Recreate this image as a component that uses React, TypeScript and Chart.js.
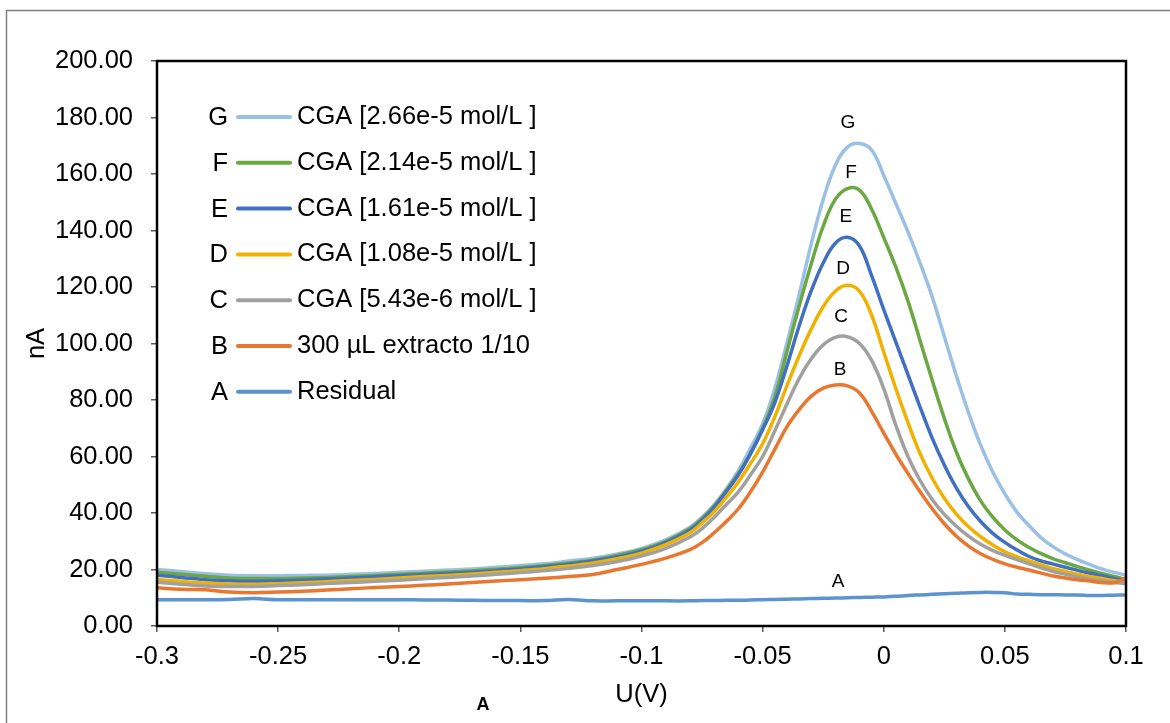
import React, { useEffect, useRef } from 'react';
import { Chart, registerables } from 'chart.js';

Chart.register(...registerables);

const FONT = '"Liberation Sans", Arial, Helvetica, sans-serif';

// Potential U (V)
const xs = [
  -0.3, -0.29, -0.28, -0.27, -0.26, -0.25, -0.24, -0.23, -0.22, -0.21,
  -0.2, -0.19, -0.18, -0.17, -0.16, -0.15, -0.14, -0.13, -0.12, -0.11,
  -0.1, -0.09, -0.08, -0.075, -0.07, -0.065, -0.06, -0.055, -0.05, -0.045,
  -0.04, -0.035, -0.03, -0.025, -0.02, -0.015, -0.01, -0.005, 0, 0.005,
  0.01, 0.015, 0.02, 0.025, 0.03, 0.035, 0.04, 0.045, 0.05, 0.055,
  0.06, 0.065, 0.07, 0.075, 0.08, 0.085, 0.09, 0.095, 0.1,
];

// Current (nA)
const residualA = [
  9.3, 9.3, 9.3, 9.4, 9.7, 9.3, 9.3, 9.3, 9.3, 9.3,
  9.3, 9.2, 9.2, 9.1, 9.0, 9.0, 9.0, 9.4, 8.9, 8.9,
  8.9, 8.9, 8.9, 9.0, 9.0, 9.1, 9.1, 9.2, 9.3, 9.4,
  9.5, 9.6, 9.7, 9.8, 9.9, 10.0, 10.1, 10.2, 10.3, 10.5,
  10.8, 11.0, 11.2, 11.4, 11.6, 11.8, 11.9, 11.9, 11.8, 11.3,
  11.2, 11.1, 11.1, 11.0, 11.0, 10.8, 10.8, 10.9, 11.0,
];
const extractB = [
  13.5, 13.0, 12.8, 12.0, 11.8, 12.0, 12.3, 12.7, 13.2, 13.6,
  14.0, 14.4, 14.9, 15.4, 15.9, 16.4, 16.9, 17.5, 18.2, 20.0,
  21.8, 24.0, 27.0, 29.5, 33.0, 37.0, 41.5, 47.5, 54.5, 62.5,
  70.5, 76.5, 81.3, 84.2, 85.3, 85.0, 82.5, 76.0, 68.3, 60.8,
  54.0, 47.5, 41.5, 36.2, 31.8, 28.3, 25.6, 23.6, 22.0, 20.8,
  19.8, 18.7, 17.7, 17.0, 16.4, 15.9, 15.4, 15.3, 17.0,
];
const cgaC = [
  15.5, 14.8, 14.2, 14.0, 14.0, 14.3, 14.6, 15.0, 15.4, 15.8,
  16.2, 16.7, 17.2, 17.7, 18.3, 18.9, 19.6, 20.4, 21.4, 22.8,
  24.8, 27.5, 31.5, 34.5, 38.5, 43.0, 47.5, 53.5, 60.0, 69.0,
  78.5, 87.5, 94.5, 99.5, 102.2, 102.4, 100.0, 94.0, 84.0, 71.0,
  60.0, 51.5, 44.8, 39.5, 35.3, 31.8, 28.9, 26.7, 25.0, 23.5,
  22.0, 20.6, 19.3, 18.3, 17.4, 16.6, 16.0, 15.4, 15.0,
];
const cgaD = [
  16.5, 15.8, 15.2, 14.8, 14.8, 15.0, 15.3, 15.7, 16.1, 16.5,
  17.0, 17.5, 17.9, 18.4, 19.0, 19.6, 20.3, 21.2, 22.3, 23.8,
  25.8, 28.8, 33.0, 36.5, 40.5, 45.5, 51.0, 57.5, 64.5, 74.0,
  85.0, 95.5, 105.0, 113.0, 118.5, 120.6, 118.5, 110.0, 97.0, 84.0,
  72.0, 61.0, 52.3, 45.2, 39.6, 35.1, 31.6, 28.7, 26.3, 24.5,
  23.0, 21.6, 20.3, 19.3, 18.3, 17.5, 16.8, 16.0, 15.5,
];
const cgaE = [
  18.0, 17.2, 16.4, 16.0, 15.8, 16.0, 16.3, 16.6, 17.0, 17.4,
  17.8, 18.2, 18.6, 19.0, 19.6, 20.2, 21.0, 21.9, 23.0, 24.5,
  26.5, 29.5, 34.0, 37.5, 42.0, 47.5, 53.5, 61.0, 69.5, 79.0,
  92.0, 106.0, 118.5, 128.5, 135.5, 137.6, 134.5, 124.0, 112.0, 100.5,
  89.0, 77.5, 66.5, 57.0, 48.8, 42.2, 37.0, 32.8, 29.6, 26.9,
  24.6, 23.0, 21.9, 20.8, 19.7, 18.7, 17.8, 16.8, 16.0,
];
const cgaF = [
  19.0, 18.3, 17.6, 17.0, 16.8, 16.8, 17.0, 17.2, 17.5, 17.9,
  18.3, 18.7, 19.1, 19.5, 20.1, 20.7, 21.4, 22.3, 23.4, 25.0,
  27.0, 30.0, 34.5, 38.0, 42.5, 48.0, 54.0, 61.0, 70.0, 81.0,
  97.0, 113.0, 128.0, 141.5, 151.0, 154.8, 154.3, 147.5, 137.5, 127.0,
  115.0, 101.0, 87.0, 73.5, 61.5, 52.0, 44.3, 38.5, 34.0, 30.5,
  27.8, 25.6, 23.8, 22.4, 21.0, 19.8, 18.6, 17.5, 16.5,
];
const cgaG = [
  20.0, 19.3, 18.5, 18.0, 17.8, 17.8, 17.9, 18.0, 18.3, 18.6,
  19.0, 19.4, 19.8, 20.2, 20.8, 21.4, 22.0, 23.0, 24.0, 25.5,
  27.5, 30.5, 35.0, 38.5, 43.0, 48.5, 55.0, 63.0, 71.5, 84.0,
  100.0, 117.0, 135.0, 151.0, 163.0, 169.5, 170.8, 168.5, 159.5, 149.5,
  139.5, 128.5, 116.5, 102.5, 88.5, 75.5, 64.0, 54.5, 46.8, 40.3,
  35.5, 31.2, 28.0, 25.5, 23.5, 21.8, 20.2, 19.0, 18.0,
];

// Series meta (order A..G)
const seriesLetters = ['A', 'B', 'C', 'D', 'E', 'F', 'G'];
const seriesLabels = [
  'Residual',
  '300 µL extracto 1/10',
  'CGA [5.43e-6 mol/L ]',
  'CGA [1.08e-5 mol/L ]',
  'CGA [1.61e-5 mol/L ]',
  'CGA [2.14e-5 mol/L ]',
  'CGA [2.66e-5 mol/L ]',
];
const seriesValues = [residualA, extractB, cgaC, cgaD, cgaE, cgaF, cgaG];
const seriesColors = ['#5B94CF', '#E8772F', '#A0A0A0', '#EFB200', '#4270C0', '#6BA843', '#9BC0E5'];

// Peak-letter annotations (data coordinates)
const peakLabelX = [-0.0189, -0.018, -0.0176, -0.0168, -0.0156, -0.0135, -0.0148];
const peakLabelY = [15.6, 90.6, 109.4, 126.4, 144.8, 160.4, 178.3];

// Axis ticks
const xTickValues = [-0.3, -0.25, -0.2, -0.15, -0.1, -0.05, 0, 0.05, 0.1];
const xTickLabels = ['-0.3', '-0.25', '-0.2', '-0.15', '-0.1', '-0.05', '0', '0.05', '0.1'];
const yTickValues = [0, 20, 40, 60, 80, 100, 120, 140, 160, 180, 200];
const yTickLabels = ['0.00', '20.00', '40.00', '60.00', '80.00', '100.00', '120.00', '140.00', '160.00', '180.00', '200.00'];

const TICK_FONT = 25.5;

const framePlugin = {
  id: 'frame',
  beforeDraw(chart: any) {
    const ctx = chart.ctx;
    ctx.save();
    ctx.strokeStyle = '#808080';
    ctx.lineWidth = 1.5;
    ctx.strokeRect(6.5, 10.5, 1400, 900);
    ctx.restore();
  },
  afterDatasetsDraw(chart: any) {
    const { ctx, chartArea } = chart;
    ctx.save();
    ctx.strokeStyle = '#000';
    ctx.lineWidth = 2.5;
    ctx.strokeRect(chartArea.left, chartArea.top, chartArea.right - chartArea.left, chartArea.bottom - chartArea.top);
    ctx.restore();
  },
  afterDraw(chart: any) {
    const { ctx, chartArea, scales } = chart;
    ctx.save();
    // peak letters
    ctx.fillStyle = '#000';
    ctx.font = `19px ${FONT}`;
    ctx.textAlign = 'center';
    ctx.textBaseline = 'middle';
    for (let i = 0; i < seriesLetters.length; i++) {
      ctx.fillText(seriesLetters[i], scales.x.getPixelForValue(peakLabelX[i]), scales.y.getPixelForValue(peakLabelY[i]));
    }
    // legend (G at top)
    const rowStart = chartArea.top + 56;
    const rowGap = 45.8;
    const letterRight = chartArea.left + 71;
    const lineStart = chartArea.left + 81;
    const lineEnd = chartArea.left + 133;
    const textStart = chartArea.left + 140;
    ctx.font = `${TICK_FONT}px ${FONT}`;
    for (let r = 0; r < seriesLetters.length; r++) {
      const i = seriesLetters.length - 1 - r;
      const y = rowStart + r * rowGap;
      ctx.fillStyle = '#000';
      ctx.textAlign = 'right';
      ctx.fillText(seriesLetters[i], letterRight, y + 1);
      ctx.strokeStyle = seriesColors[i];
      ctx.lineWidth = 4;
      ctx.lineCap = 'round';
      ctx.beginPath();
      ctx.moveTo(lineStart, y);
      ctx.lineTo(lineEnd, y);
      ctx.stroke();
      ctx.textAlign = 'left';
      ctx.fillText(seriesLabels[i], textStart, y);
    }
    // panel caption
    ctx.font = `bold 18px ${FONT}`;
    ctx.textAlign = 'center';
    ctx.fillText('A', 483, 705);
    ctx.restore();
  },
};

export default function App() {
  const ref = useRef<HTMLCanvasElement>(null);
  useEffect(() => {
    const canvas = ref.current;
    if (!canvas) return;
    const chart = new Chart(canvas, {
      type: 'line',
      data: {
        datasets: seriesValues.map((vals, i) => ({
          label: seriesLabels[i],
          data: vals.map((v, j) => ({ x: xs[j], y: v })),
          borderColor: seriesColors[i],
          backgroundColor: seriesColors[i],
          borderWidth: 3.5,
          pointRadius: 0,
          tension: 0.4,
          fill: false,
        })),
      },
      options: {
        animation: false,
        responsive: false,
        devicePixelRatio: 1,
        layout: { padding: { top: 61, right: 44, left: 0, bottom: 0 } },
        plugins: { legend: { display: false }, tooltip: { enabled: false } },
        scales: {
          x: {
            type: 'linear',
            min: -0.3,
            max: 0.1,
            afterBuildTicks: (scale: any) => {
              scale.ticks = xTickValues.map((v) => ({ value: v }));
            },
            afterFit: (scale: any) => {
              scale.height = 97;
            },
            ticks: {
              callback: (_v: any, idx: number) => xTickLabels[idx],
              font: { family: FONT, size: TICK_FONT },
              color: '#000',
              padding: 10,
              maxRotation: 0,
              autoSkip: false,
            },
            grid: { drawOnChartArea: false, drawTicks: true, tickLength: 6, color: '#595959', lineWidth: 1.5 },
            border: { display: false },
            title: {
              display: true,
              text: 'U(V)',
              color: '#000',
              font: { family: FONT, size: TICK_FONT },
              padding: { top: 0, bottom: 13 },
            },
          },
          y: {
            type: 'linear',
            min: 0,
            max: 200,
            afterBuildTicks: (scale: any) => {
              scale.ticks = yTickValues.map((v) => ({ value: v }));
            },
            afterFit: (scale: any) => {
              scale.width = 157;
            },
            ticks: {
              callback: (_v: any, idx: number) => yTickLabels[idx],
              font: { family: FONT, size: TICK_FONT },
              color: '#000',
              padding: 18,
              autoSkip: false,
            },
            grid: { drawOnChartArea: false, drawTicks: true, tickLength: 6, color: '#595959', lineWidth: 1.5 },
            border: { display: false },
            title: {
              display: true,
              text: 'nA',
              color: '#000',
              font: { family: FONT, size: TICK_FONT },
              padding: { top: 22, bottom: 0 },
            },
          },
        },
      },
      plugins: [framePlugin],
    } as any);
    return () => chart.destroy();
  }, []);
  return (
    <div style={{ position: 'absolute', left: 0, top: 0, width: 1170, height: 723 }}>
      <canvas ref={ref} width={1170} height={723} style={{ display: 'block' }} />
    </div>
  );
}
